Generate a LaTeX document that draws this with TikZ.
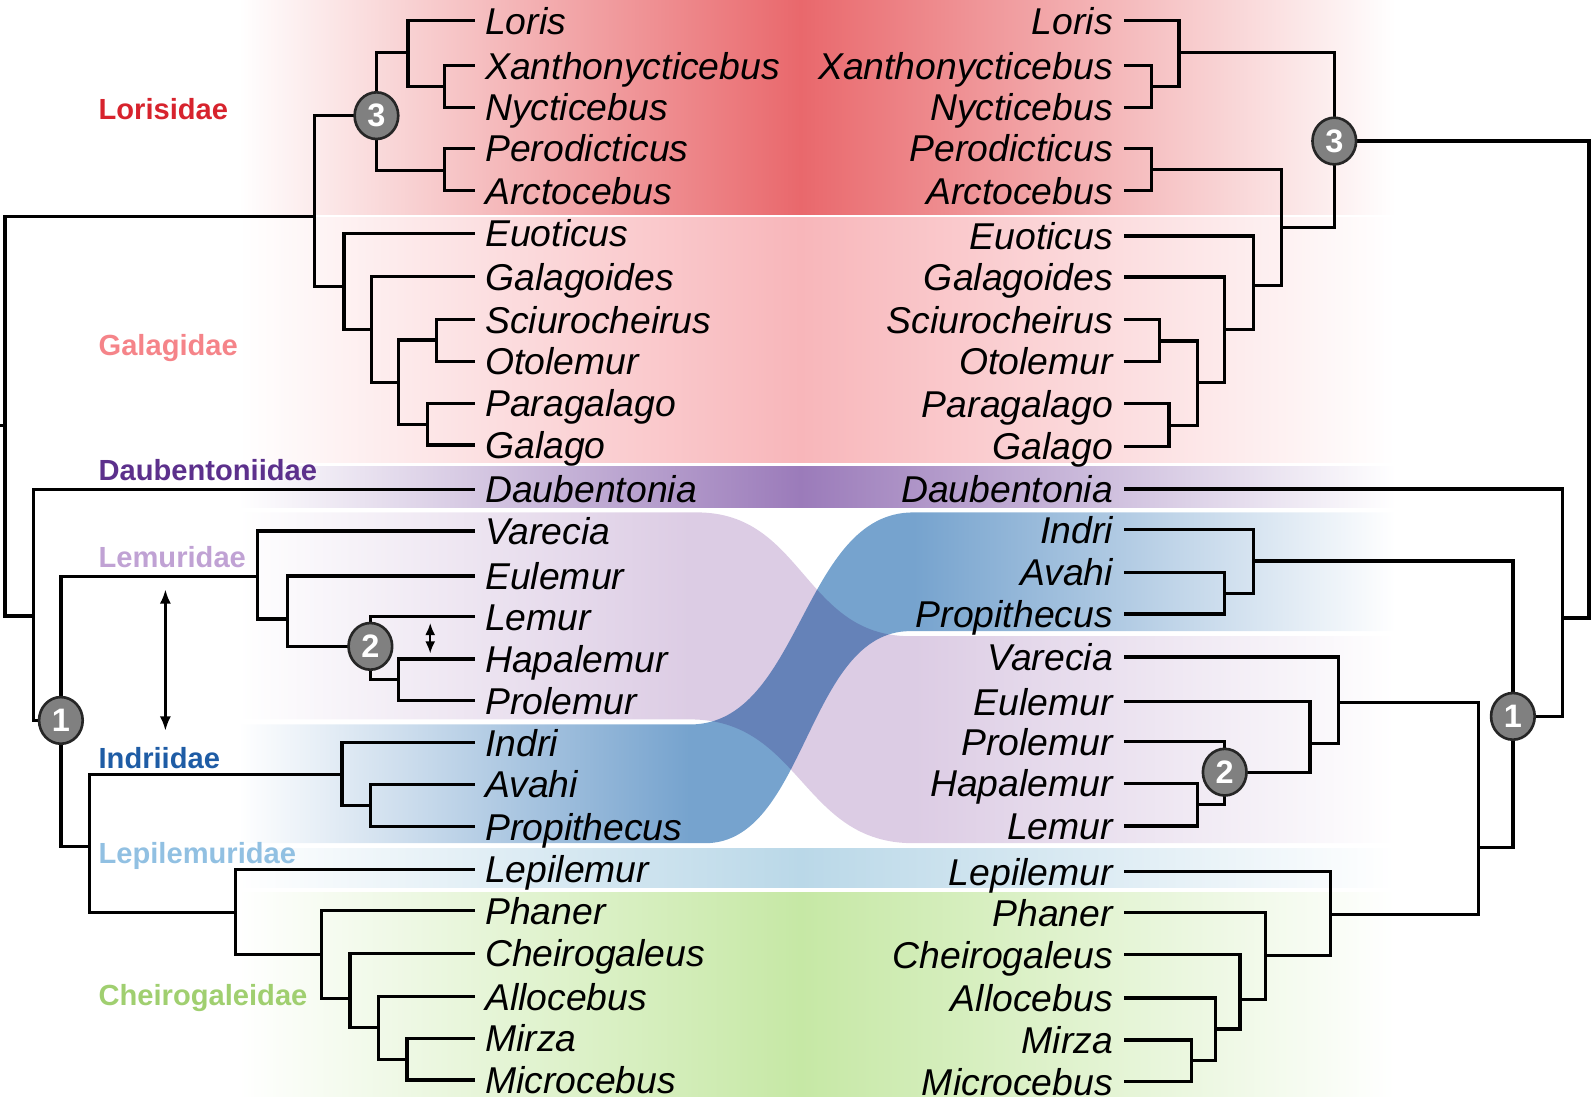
\documentclass[tikz,border=0pt]{standalone}
\usepackage{fontspec}
\setmainfont{Liberation Sans}
\usetikzlibrary{arrows.meta,shapes.geometric}
\definecolor{cLor}{RGB}{233,104,108}
\definecolor{cGal}{RGB}{248,182,186}
\definecolor{cDau}{RGB}{155,123,186}
\definecolor{cLem}{RGB}{220,204,228}
\definecolor{cInd}{RGB}{118,163,206}
\definecolor{cLep}{RGB}{186,216,232}
\definecolor{cChe}{RGB}{198,232,165}
\definecolor{tLor}{RGB}{215,35,45}
\definecolor{tGal}{RGB}{245,132,137}
\definecolor{tDau}{RGB}{92,48,140}
\definecolor{tLem}{RGB}{192,162,212}
\definecolor{tInd}{RGB}{30,92,165}
\definecolor{tLep}{RGB}{145,192,226}
\definecolor{tChe}{RGB}{160,207,112}
\definecolor{numgray}{RGB}{128,128,128}
\pgfdeclarehorizontalshading{shLor}{100bp}{color(0bp)=(white); color(25bp)=(white); color(49.3bp)=(cLor); color(75bp)=(white); color(100bp)=(white)}
\pgfdeclarehorizontalshading{shGal}{100bp}{color(0bp)=(white); color(25bp)=(white); color(49.3bp)=(cGal); color(75bp)=(white); color(100bp)=(white)}
\pgfdeclarehorizontalshading{shDau}{100bp}{color(0bp)=(white); color(25bp)=(white); color(49.3bp)=(cDau); color(75bp)=(white); color(100bp)=(white)}
\pgfdeclarehorizontalshading{shLep}{100bp}{color(0bp)=(white); color(25bp)=(white); color(49.3bp)=(cLep); color(75bp)=(white); color(100bp)=(white)}
\pgfdeclarehorizontalshading{shChe}{100bp}{color(0bp)=(white); color(25bp)=(white); color(49.3bp)=(cChe); color(75bp)=(white); color(100bp)=(white)}
\pgfdeclarehorizontalshading{shLem}{100bp}{color(0bp)=(white); color(25bp)=(white); color(44.5bp)=(cLem); color(54.2bp)=(cLem); color(75bp)=(white); color(100bp)=(white)}
\pgfdeclarehorizontalshading{shInd}{100bp}{color(0bp)=(white); color(25bp)=(white); color(44.5bp)=(cInd); color(54.2bp)=(cInd); color(75bp)=(white); color(100bp)=(white)}
\newcommand\tipL[3]{\coordinate (t#1) at (468,#2); \node[taxL] (nL#1) at (478,#2) {#3};}
\newcommand\tipR[3]{\coordinate (u#1) at (1108,#2); \node[taxR] (nR#1) at (1097,#2) {#3};}
\begin{document}
\begin{tikzpicture}[x=1pt,y=-1pt,
  br/.style={line width=3.2pt, line join=miter},
  taxL/.style={anchor=base west, yshift=-13.2pt, inner sep=0pt, font=\fontsize{36.8}{40}\selectfont\itshape},
  taxR/.style={anchor=base east, yshift=-13.2pt, inner sep=0pt, font=\fontsize{36.8}{40}\selectfont\itshape},
  fam/.style={anchor=base west, yshift=-10.3pt, inner sep=0pt, font=\fontsize{28.7}{32}\selectfont\bfseries},
  numc/.style={ellipse, minimum width=43pt, minimum height=46pt, inner sep=0pt, fill=numgray, draw=black!85, line width=2.6pt, text=white, font=\fontsize{32}{34}\selectfont\bfseries},
  dbl/.style={line width=2.2pt, {Latex[length=14pt,width=11pt]}-{Latex[length=14pt,width=11pt]}},
  dbls/.style={line width=2.2pt, {Latex[length=12pt,width=10pt]}-{Latex[length=12pt,width=10pt]}}]
\useasboundingbox (0,0) rectangle (1568,1089);
% ---- bands ----
\path[shading=shLor] (235,0) rectangle (1375,211.5);
\path[shading=shGal] (235,214.5) rectangle (1375,456);
\path[shading=shDau] (235,460) rectangle (1375,500);
\path[shading=shLem] (235,505) -- (687,505) .. controls (792,505) and (792,627) .. (897,627) -- (1375,627) -- (1375,831) -- (900,831) .. controls (790,831) and (790,709) .. (680,709) -- (235,709) -- cycle;
\begin{scope}[blend mode=multiply]
\path[shading=shInd] (235,714) -- (680,714) .. controls (790,714) and (790,505) .. (900,505) -- (1375,505) -- (1375,622) -- (897,622) .. controls (795,622) and (795,831) .. (695,831) -- (235,831) -- cycle;
\end{scope}
\path[shading=shLep] (235,836) rectangle (1375,875);
\path[shading=shChe] (235,880) rectangle (1375,1081);
% ---- left tips ----
\tipL{Loris}{20.4}{Loris}
\tipL{Xan}{64.7}{Xanthonycticebus}
\tipL{Nyc}{105.8}{Nycticebus}
\tipL{Per}{146}{Perodicticus}
\tipL{Arc}{188}{Arctocebus}
\tipL{Euo}{230}{Euoticus}
\tipL{Gls}{272.7}{Galagoides}
\tipL{Sci}{315}{Sciurocheirus}
\tipL{Oto}{356}{Otolemur}
\tipL{Par}{397.5}{Paragalago}
\tipL{Gal}{438.6}{Galago}
\tipL{Dau}{482.2}{Daubentonia}
\tipL{Var}{523.3}{Varecia}
\tipL{Eul}{567.6}{Eulemur}
\tipL{Lem}{607.7}{Lemur}
\tipL{Hap}{649.5}{Hapalemur}
\tipL{Pro}{690.5}{Prolemur}
\tipL{Ind}{731.9}{Indri}
\tipL{Ava}{773}{Avahi}
\tipL{Prp}{814.7}{Propithecus}
\tipL{Lep}{856.7}{Lepilemur}
\tipL{Pha}{897.5}{Phaner}
\tipL{Che}{939.5}{Cheirogaleus}
\tipL{All}{982.2}{Allocebus}
\tipL{Mir}{1023.2}{Mirza}
\tipL{Mic}{1064.3}{Microcebus}
% ---- right tips ----
\tipR{Loris}{20.4}{Loris}
\tipR{Xan}{64.7}{Xanthonycticebus}
\tipR{Nyc}{105.8}{Nycticebus}
\tipR{Per}{146}{Perodicticus}
\tipR{Arc}{188}{Arctocebus}
\tipR{Euo}{232.6}{Euoticus}
\tipR{Gls}{273}{Galagoides}
\tipR{Sci}{315}{Sciurocheirus}
\tipR{Oto}{356}{Otolemur}
\tipR{Par}{398}{Paragalago}
\tipR{Gal}{440}{Galago}
\tipR{Dau}{482}{Daubentonia}
\tipR{Ind}{522}{Indri}
\tipR{Ava}{564}{Avahi}
\tipR{Prp}{605}{Propithecus}
\tipR{Var}{647.5}{Varecia}
\tipR{Eul}{691.6}{Eulemur}
\tipR{Pro}{731}{Prolemur}
\tipR{Hap}{772}{Hapalemur}
\tipR{Lem}{814}{Lemur}
\tipR{Lep}{859}{Lepilemur}
\tipR{Pha}{899.5}{Phaner}
\tipR{Che}{941}{Cheirogaleus}
\tipR{All}{983.5}{Allocebus}
\tipR{Mir}{1025}{Mirza}
\tipR{Mic}{1066}{Microcebus}
% ---- left internal nodes ----
\coordinate (R) at (5,419);
\coordinate (Rs) at (0,419);
\coordinate (LF) at (310,213);
\coordinate (L3) at (371,114);
\coordinate (LX) at (402,52);
\coordinate (XN) at (438,85);
\coordinate (PA) at (438,168);
\coordinate (G) at (339,282);
\coordinate (G2) at (366,325);
\coordinate (G3) at (393,377);
\coordinate (SO) at (430,335);
\coordinate (PG) at (421,418);
\coordinate (LM) at (33,607);
\coordinate (N1) at (60,710);
\coordinate (LE) at (254,568);
\coordinate (LE2) at (283,610);
\coordinate (N2) at (365,637);
\coordinate (HP) at (393,670);
\coordinate (LI) at (88,834);
\coordinate (IN) at (337,763);
\coordinate (AP) at (365,794);
\coordinate (CL) at (232,899);
\coordinate (CH) at (317,941);
\coordinate (CH2) at (345,984);
\coordinate (CH3) at (373,1013);
\coordinate (MM) at (401,1044);
% ---- right internal nodes ----
\coordinate (RR) at (1566,374);
\coordinate (R3) at (1315,139);
\coordinate (RLX) at (1162,52);
\coordinate (RXN) at (1135,85);
\coordinate (RPG) at (1263,224);
\coordinate (RPA) at (1135,167);
\coordinate (RG) at (1235,281);
\coordinate (RG2) at (1207,325);
\coordinate (RG3) at (1180,377);
\coordinate (RSO) at (1143,336);
\coordinate (RPGa) at (1152,419);
\coordinate (RLM) at (1540,609);
\coordinate (RN1) at (1491,706);
\coordinate (RIN) at (1235,553);
\coordinate (RAP) at (1207,585);
\coordinate (RLI) at (1457,835);
\coordinate (RLE) at (1319,692);
\coordinate (RLE2) at (1291,733);
\coordinate (RN2) at (1207,761);
\coordinate (RHL) at (1180,793);
\coordinate (RCL) at (1311,901);
\coordinate (RCH) at (1247,942);
\coordinate (RCH2) at (1222,985);
\coordinate (RCH3) at (1198,1014);
\coordinate (RMM) at (1174,1045);
% ---- left branches ----
\draw[br] (Rs) -- (R);
\draw[br] (R) |- (LF); \draw[br] (R) |- (LM);
\draw[br] (LF) |- (L3); \draw[br] (LF) |- (G);
\draw[br] (L3) |- (LX); \draw[br] (L3) |- (PA);
\draw[br] (LX) |- (tLoris); \draw[br] (LX) |- (XN);
\draw[br] (XN) |- (tXan); \draw[br] (XN) |- (tNyc);
\draw[br] (PA) |- (tPer); \draw[br] (PA) |- (tArc);
\draw[br] (G) |- (tEuo); \draw[br] (G) |- (G2);
\draw[br] (G2) |- (tGls); \draw[br] (G2) |- (G3);
\draw[br] (G3) |- (SO); \draw[br] (G3) |- (PG);
\draw[br] (SO) |- (tSci); \draw[br] (SO) |- (tOto);
\draw[br] (PG) |- (tPar); \draw[br] (PG) |- (tGal);
\draw[br] (LM) |- (tDau); \draw[br] (LM) |- (N1);
\draw[br] (N1) |- (LE); \draw[br] (N1) |- (LI);
\draw[br] (LE) |- (tVar); \draw[br] (LE) |- (LE2);
\draw[br] (LE2) |- (tEul); \draw[br] (LE2) |- (N2);
\draw[br] (N2) |- (tLem); \draw[br] (N2) |- (HP);
\draw[br] (HP) |- (tHap); \draw[br] (HP) |- (tPro);
\draw[br] (LI) |- (IN); \draw[br] (LI) |- (CL);
\draw[br] (IN) |- (tInd); \draw[br] (IN) |- (AP);
\draw[br] (AP) |- (tAva); \draw[br] (AP) |- (tPrp);
\draw[br] (CL) |- (tLep); \draw[br] (CL) |- (CH);
\draw[br] (CH) |- (tPha); \draw[br] (CH) |- (CH2);
\draw[br] (CH2) |- (tChe); \draw[br] (CH2) |- (CH3);
\draw[br] (CH3) |- (tAll); \draw[br] (CH3) |- (MM);
\draw[br] (MM) |- (tMir); \draw[br] (MM) |- (tMic);
% ---- right branches ----
\draw[br] (RR) |- (R3); \draw[br] (RR) |- (RLM);
\draw[br] (R3) |- (RLX); \draw[br] (R3) |- (RPG);
\draw[br] (RLX) |- (uLoris); \draw[br] (RLX) |- (RXN);
\draw[br] (RXN) |- (uXan); \draw[br] (RXN) |- (uNyc);
\draw[br] (RPG) |- (RPA); \draw[br] (RPG) |- (RG);
\draw[br] (RPA) |- (uPer); \draw[br] (RPA) |- (uArc);
\draw[br] (RG) |- (uEuo); \draw[br] (RG) |- (RG2);
\draw[br] (RG2) |- (uGls); \draw[br] (RG2) |- (RG3);
\draw[br] (RG3) |- (RSO); \draw[br] (RG3) |- (RPGa);
\draw[br] (RSO) |- (uSci); \draw[br] (RSO) |- (uOto);
\draw[br] (RPGa) |- (uPar); \draw[br] (RPGa) |- (uGal);
\draw[br] (RLM) |- (uDau); \draw[br] (RLM) |- (RN1);
\draw[br] (RN1) |- (RIN); \draw[br] (RN1) |- (RLI);
\draw[br] (RIN) |- (uInd); \draw[br] (RIN) |- (RAP);
\draw[br] (RAP) |- (uAva); \draw[br] (RAP) |- (uPrp);
\draw[br] (RLI) |- (RLE); \draw[br] (RLI) |- (RCL);
\draw[br] (RLE) |- (uVar); \draw[br] (RLE) |- (RLE2);
\draw[br] (RLE2) |- (uEul); \draw[br] (RLE2) |- (RN2);
\draw[br] (RN2) |- (uPro); \draw[br] (RN2) |- (RHL);
\draw[br] (RHL) |- (uHap); \draw[br] (RHL) |- (uLem);
\draw[br] (RCL) |- (uLep); \draw[br] (RCL) |- (RCH);
\draw[br] (RCH) |- (uPha); \draw[br] (RCH) |- (RCH2);
\draw[br] (RCH2) |- (uChe); \draw[br] (RCH2) |- (RCH3);
\draw[br] (RCH3) |- (uAll); \draw[br] (RCH3) |- (RMM);
\draw[br] (RMM) |- (uMir); \draw[br] (RMM) |- (uMic);
% ---- numbered nodes ----
\node[numc] (c3L) at (L3) {3};
\node[numc] (c2L) at (N2) {2};
\node[numc] (c1L) at (N1) {1};
\node[numc] (c3R) at (R3) {3};
\node[numc] (c2R) at (RN2) {2};
\node[numc] (c1R) at (RN1) {1};
% ---- arrows ----
\coordinate (a1t) at (163,581); \coordinate (a1b) at (163,720);
\draw[dbl] (a1t) -- (a1b);
\coordinate (a2t) at (424,614); \coordinate (a2b) at (424,644);
\draw[dbls] (a2t) -- (a2b);
% ---- family labels ----
\node[fam, text=tLor] (fLor) at (97,107) {Lorisidae};
\node[fam, text=tGal] (fGal) at (97,340) {Galagidae};
\node[fam, text=tDau] (fDau) at (97,463.5) {Daubentoniidae};
\node[fam, text=tLem] (fLem) at (97,549) {Lemuridae};
\node[fam, text=tInd] (fInd) at (97,747) {Indriidae};
\node[fam, text=tLep] (fLep) at (97,841) {Lepilemuridae};
\node[fam, text=tChe] (fChe) at (97,981) {Cheirogaleidae};
\end{tikzpicture}
\end{document}
